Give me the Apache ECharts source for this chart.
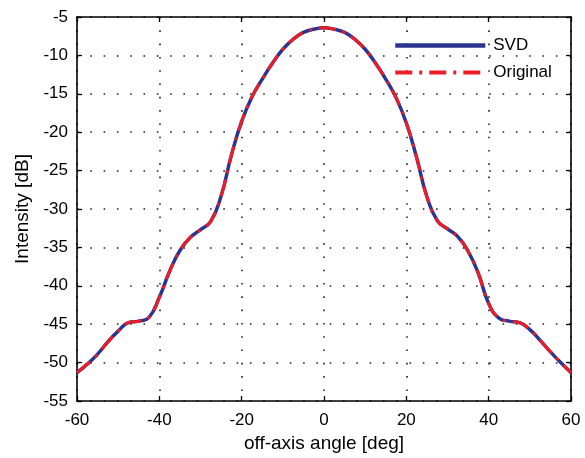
<!DOCTYPE html>
<html>
<head>
<meta charset="utf-8">
<script src="https://cdn.jsdelivr.net/npm/echarts@6/dist/echarts.min.js"></script>
<style>
html,body{margin:0;padding:0;background:#fff;}
#chart{width:585px;height:458px;}
</style>
</head>
<body>
<div id="chart"></div>
<script>
var angles = [-60,-57.5,-55,-52.5,-50,-47.5,-45,-42.5,-40,-37.5,-35,-32.5,-30,-27.5,-25,-22.5,-20,-17.5,-15,-12.5,-10,-7.5,-5,-2.5,
  0,2.5,5,7.5,10,12.5,15,17.5,20,22.5,25,27.5,30,32.5,35,37.5,40,42.5,45,47.5,50,52.5,55,57.5,60];
var svdValues = [-51.3,-50.2,-48.9,-47.3,-45.9,-44.8,-44.6,-44.1,-41.5,-38.1,-35.4,-33.7,-32.7,-31.6,-28.3,-23.0,-18.6,-15.4,-13.1,-11.0,-9.2,-7.9,-7.0,-6.6,
  -6.4,-6.6,-7.0,-7.9,-9.2,-11.0,-13.1,-15.5,-18.8,-23.3,-28.4,-31.5,-32.6,-33.6,-35.5,-38.4,-42.3,-44.2,-44.6,-44.8,-45.7,-47.1,-48.6,-50.0,-51.3];
var originalValues = [-51.3,-50.2,-48.9,-47.3,-45.9,-44.8,-44.6,-44.1,-41.5,-38.1,-35.4,-33.7,-32.7,-31.6,-28.3,-23.0,-18.6,-15.4,-13.1,-11.0,-9.2,-7.9,-7.0,-6.6,
  -6.4,-6.6,-7.0,-7.9,-9.2,-11.0,-13.1,-15.5,-18.8,-23.3,-28.4,-31.5,-32.6,-33.6,-35.5,-38.4,-42.3,-44.2,-44.6,-44.8,-45.7,-47.1,-48.6,-50.0,-51.3];
var xTicks = [-60,-40,-20,0,20,40,60];
var yTicks = [-55,-50,-45,-40,-35,-30,-25,-20,-15,-10,-5];
var seriesNames = ['SVD','Original'];

function pairs(xs, ys){ return xs.map(function(x,i){ return [x, ys[i]]; }); }

var font = 'Liberation Sans, Arial, Helvetica, sans-serif';
var blue = '#2B3590', red = '#EE1C25';
var redDash = [17,7,3,7];
var gridLine = {show:true, lineStyle:{color:'#222', width:1.6, type:[1.6,11.7]}};

var chart = echarts.init(document.getElementById('chart'), null, {renderer:'canvas'});
chart.setOption({
  animation:false,
  backgroundColor:'#fff',
  grid:{left:77, right:14, top:17, bottom:57, containLabel:false},
  legend:{
    orient:'vertical', left:393, top:37, padding:0, itemGap:10,
    itemWidth:90, itemHeight:14,
    itemStyle:{opacity:0},
    textStyle:{fontFamily:font, fontSize:17, color:'#000', padding:[0,0,0,3]},
    data:[
      {name:seriesNames[0], lineStyle:{color:blue, width:4.5, type:'solid'}},
      {name:seriesNames[1], lineStyle:{color:red, width:4, type:redDash}}
    ]
  },
  xAxis:[{
    type:'value', min:xTicks[0], max:xTicks[xTicks.length-1], interval:20,
    name:'off-axis angle [deg]', nameLocation:'middle', nameGap:32,
    nameTextStyle:{fontFamily:font, fontSize:19, color:'#000'},
    axisLine:{show:true, onZero:false, lineStyle:{color:'#000', width:1.6}},
    axisTick:{show:true, inside:true, length:5, lineStyle:{color:'#000', width:1.3}},
    axisLabel:{fontFamily:font, fontSize:17, color:'#000', margin:11},
    splitLine:gridLine
  },{
    type:'value', position:'top', min:xTicks[0], max:xTicks[xTicks.length-1], interval:20,
    axisLine:{show:true, onZero:false, lineStyle:{color:'#000', width:1.6}},
    axisTick:{show:true, inside:true, length:5, lineStyle:{color:'#000', width:1.3}},
    axisLabel:{show:false}, splitLine:{show:false}
  }],
  yAxis:[{
    type:'value', min:yTicks[0], max:yTicks[yTicks.length-1], interval:5,
    name:'Intensity [dB]', nameLocation:'middle', nameGap:45, nameRotate:90,
    nameTextStyle:{fontFamily:font, fontSize:19, color:'#000'},
    axisLine:{show:true, onZero:false, lineStyle:{color:'#000', width:1.6}},
    axisTick:{show:true, inside:true, length:5, lineStyle:{color:'#000', width:1.3}},
    axisLabel:{fontFamily:font, fontSize:17, color:'#000', margin:9},
    splitLine:gridLine
  },{
    type:'value', position:'right', min:yTicks[0], max:yTicks[yTicks.length-1], interval:5,
    axisLine:{show:true, onZero:false, lineStyle:{color:'#000', width:1.6}},
    axisTick:{show:true, inside:true, length:5, lineStyle:{color:'#000', width:1.3}},
    axisLabel:{show:false}, splitLine:{show:false}
  }],
  series:[{
    name:seriesNames[0], type:'line', data:pairs(angles, svdValues),
    smooth:0.5, showSymbol:false, symbol:'none', z:2,
    itemStyle:{color:blue},
    lineStyle:{color:blue, width:3.5, type:'solid'}
  },{
    name:seriesNames[1], type:'line', data:pairs(angles, originalValues),
    smooth:0.5, showSymbol:false, symbol:'none', z:3,
    itemStyle:{color:red},
    lineStyle:{color:red, width:3, type:redDash}
  }]
});
</script>
</body>
</html>
